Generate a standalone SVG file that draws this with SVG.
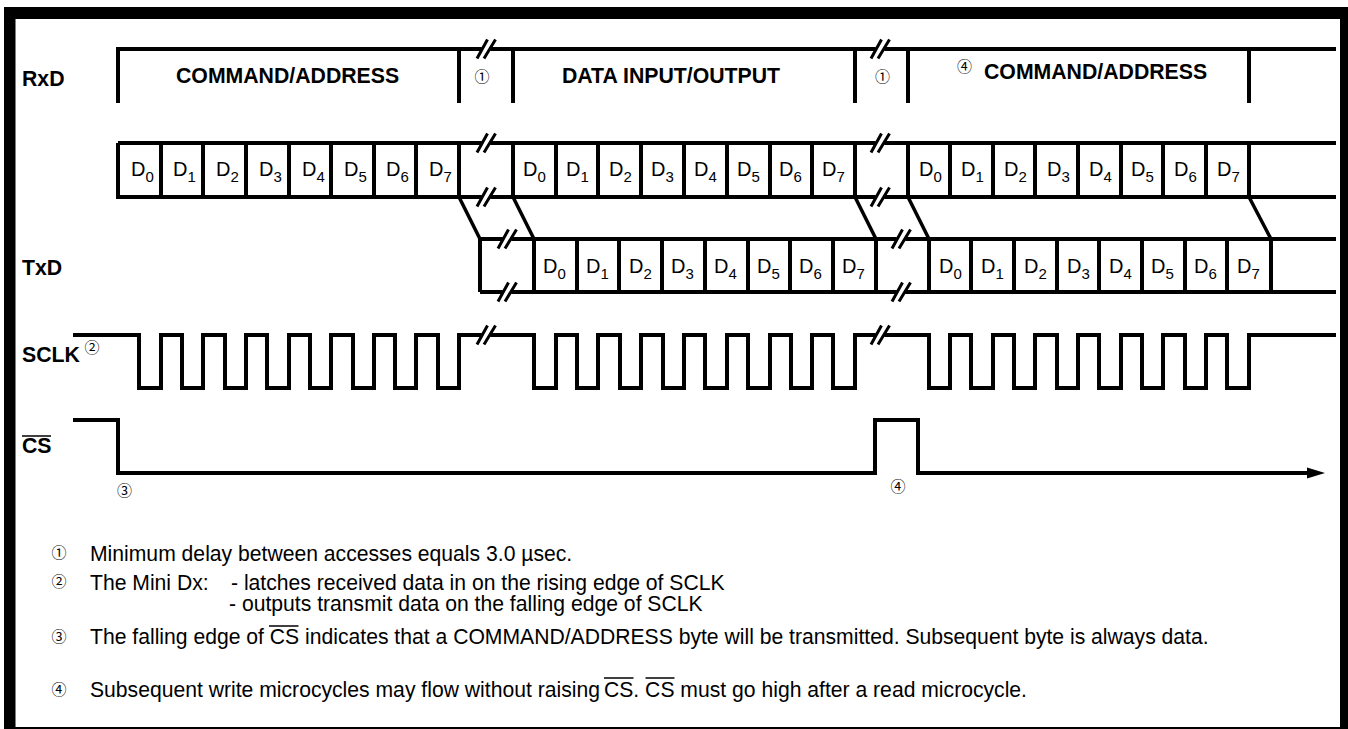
<svg xmlns="http://www.w3.org/2000/svg" width="1348" height="729" viewBox="0 0 1348 729">
<style>
text{font-family:"Liberation Sans",Arial,sans-serif;fill:#000}
.b{font-weight:bold;font-size:21.250px}
.d{font-size:20px}
.d tspan{font-size:15px}
.n{font-size:21.150px}
.c{font-family:"Noto Sans CJK JP","Noto Sans CJK SC",sans-serif;font-size:15px}
.w{fill:none;stroke:#000;stroke-width:4}
.t{fill:none;stroke:#000;stroke-width:3.500}
.s{fill:none;stroke:#000;stroke-width:3}
.o{stroke:#000;stroke-width:1.500}
</style>
<defs>
<g id="brk">
<path d="M-5 -7L3 -7L5 7L-3 7Z" fill="#fff"/>
<path d="M-9 9.500L1.500 -9.500M-2 9.500L9.500 -9.500" class="s"/>
</g>
</defs>
<rect width="1348" height="729" fill="#fff"/>
<g id="frame"><path d="M4 7H1348V729H4ZM15.500 19V727H1340V19Z" fill="#000" fill-rule="evenodd"/></g>
<g id="connectors">
<g id="rxd-frame"><path class="w" d="M118 103V49H1336M459 49V103M513 49V103M855 49V103M908 49V103M1249 49V103"/></g>
<g id="rxd-bits"><path class="w" d="M118 143H1336M116 197H1336M118 143V197M161 143V197M203 143V197M246 143V197M289 143V197M331 143V197M374 143V197M416 143V197M459 143V197M513 143V197M556 143V197M598 143V197M641 143V197M684 143V197M727 143V197M770 143V197M812 143V197M855 143V197M908 143V197M950 143V197M993 143V197M1035 143V197M1078 143V197M1121 143V197M1163 143V197M1206 143V197M1249 143V197"/></g>
<g id="skew"><path class="t" d="M459 197L480 239M513 197L534 239M855 197L876 239M908 197L929 239M1249 197L1271 239"/></g>
<g id="txd-bits"><path class="w" d="M480 239H1336M480 292H1336M480 239V292M534 239V292M577 239V292M619 239V292M662 239V292M705 239V292M748 239V292M790 239V292M833 239V292M876 239V292M929 239V292M971 239V292M1014 239V292M1057 239V292M1099 239V292M1142 239V292M1185 239V292M1227 239V292M1271 239V292"/></g>
<g id="sclk"><path class="w" d="M73 335H139V388H161V335H182V388H203V335H225V388H246V335H267V388H289V335H310V388H331V335H353V388H374V335H395V388H416V335H438V388H459V335H534V388H556V335H577V388H598V335H620V388H641V335H663V388H684V335H705V388H727V335H748V388H770V335H791V388H812V335H833V388H855V335H929V388H950V335H971V388H993V335H1014V388H1035V335H1057V388H1078V335H1099V388H1121V335H1142V388H1163V335H1185V388H1206V335H1227V388H1249V335H1336"/></g>
<g id="cs"><path class="w" d="M73 420H118V473H875V420H918V473H1310"/><path d="M1307 467.500L1325 473L1307 478.500Z" fill="#000"/></g>
<g id="breaks">
<use href="#brk" x="486" y="49"/><use href="#brk" x="486" y="143"/><use href="#brk" x="486" y="197"/><use href="#brk" x="507" y="239"/><use href="#brk" x="507" y="292"/><use href="#brk" x="486" y="335"/>
<use href="#brk" x="880" y="49"/><use href="#brk" x="880" y="143"/><use href="#brk" x="880" y="197"/><use href="#brk" x="901" y="239"/><use href="#brk" x="901" y="292"/><use href="#brk" x="880" y="335"/>
</g>
</g>
<g id="signal-labels">
<text class="b" x="22" y="86">RxD</text>
<text class="b" x="22" y="275">TxD</text>
<text class="b" x="22" y="362">SCLK</text>
<text class="b" x="22" y="453">CS</text><line class="o" x1="22" x2="51" y1="436" y2="436"/>
</g>
<g id="field-labels">
<text class="b" x="176" y="83">COMMAND/ADDRESS</text>
<text class="b" x="562" y="83">DATA INPUT/OUTPUT</text>
<text class="b" x="984" y="79">COMMAND/ADDRESS</text>
</g>
<g id="bits-row1">
<text class="d" x="131" y="176">D<tspan dy="6">0</tspan></text><text class="d" x="173" y="176">D<tspan dy="6">1</tspan></text><text class="d" x="216" y="176">D<tspan dy="6">2</tspan></text><text class="d" x="259" y="176">D<tspan dy="6">3</tspan></text><text class="d" x="302" y="176">D<tspan dy="6">4</tspan></text><text class="d" x="344" y="176">D<tspan dy="6">5</tspan></text><text class="d" x="386" y="176">D<tspan dy="6">6</tspan></text><text class="d" x="429" y="176">D<tspan dy="6">7</tspan></text>
<text class="d" x="523" y="176">D<tspan dy="6">0</tspan></text><text class="d" x="566" y="176">D<tspan dy="6">1</tspan></text><text class="d" x="609" y="176">D<tspan dy="6">2</tspan></text><text class="d" x="651" y="176">D<tspan dy="6">3</tspan></text><text class="d" x="694" y="176">D<tspan dy="6">4</tspan></text><text class="d" x="737" y="176">D<tspan dy="6">5</tspan></text><text class="d" x="779" y="176">D<tspan dy="6">6</tspan></text><text class="d" x="822" y="176">D<tspan dy="6">7</tspan></text>
<text class="d" x="919" y="176">D<tspan dy="6">0</tspan></text><text class="d" x="961" y="176">D<tspan dy="6">1</tspan></text><text class="d" x="1004" y="176">D<tspan dy="6">2</tspan></text><text class="d" x="1047" y="176">D<tspan dy="6">3</tspan></text><text class="d" x="1089" y="176">D<tspan dy="6">4</tspan></text><text class="d" x="1131" y="176">D<tspan dy="6">5</tspan></text><text class="d" x="1174" y="176">D<tspan dy="6">6</tspan></text><text class="d" x="1217" y="176">D<tspan dy="6">7</tspan></text>
</g>
<g id="bits-row2">
<text class="d" x="543" y="273">D<tspan dy="6">0</tspan></text><text class="d" x="586" y="273">D<tspan dy="6">1</tspan></text><text class="d" x="629" y="273">D<tspan dy="6">2</tspan></text><text class="d" x="671" y="273">D<tspan dy="6">3</tspan></text><text class="d" x="714" y="273">D<tspan dy="6">4</tspan></text><text class="d" x="757" y="273">D<tspan dy="6">5</tspan></text><text class="d" x="799" y="273">D<tspan dy="6">6</tspan></text><text class="d" x="842" y="273">D<tspan dy="6">7</tspan></text>
<text class="d" x="939" y="273">D<tspan dy="6">0</tspan></text><text class="d" x="981" y="273">D<tspan dy="6">1</tspan></text><text class="d" x="1024" y="273">D<tspan dy="6">2</tspan></text><text class="d" x="1067" y="273">D<tspan dy="6">3</tspan></text><text class="d" x="1109" y="273">D<tspan dy="6">4</tspan></text><text class="d" x="1151" y="273">D<tspan dy="6">5</tspan></text><text class="d" x="1194" y="273">D<tspan dy="6">6</tspan></text><text class="d" x="1237" y="273">D<tspan dy="6">7</tspan></text>
</g>
<g id="callouts">
<text class="c" x="474.500" y="82">①</text>
<text class="c" x="875" y="82">①</text>
<text class="c" x="957" y="72">④</text>
<text class="c" x="84.500" y="353">②</text>
<text class="c" x="117" y="496">③</text>
<text class="c" x="890.500" y="492">④</text>
</g>
<g id="notes">
<text class="c" x="51.500" y="558">①</text>
<text class="n" x="90" y="561">Minimum delay between accesses equals 3.0 µsec.</text>
<text class="c" x="51.500" y="587">②</text>
<text class="n" x="90" y="590">The Mini Dx:</text>
<text class="n" x="231" y="590">- latches received data in on the rising edge of SCLK</text>
<text class="n" x="229" y="611">- outputs transmit data on the falling edge of SCLK</text>
<text class="c" x="51.500" y="642">③</text>
<text class="n" x="90" y="644">The falling edge of CS indicates that a COMMAND/ADDRESS byte will be transmitted. Subsequent byte is always data.</text>
<line class="o" x1="269" x2="298.500" y1="626" y2="626"/>
<text class="c" x="51.500" y="695">④</text>
<text class="n" x="90" y="697">Subsequent write microcycles may flow without raising</text>
<text class="n" x="604" y="697">CS. CS must go high after a read microcycle.</text>
<line class="o" x1="604" x2="633.500" y1="678" y2="678"/><line class="o" x1="645.500" x2="674.500" y1="678" y2="678"/>
</g>
</svg>
